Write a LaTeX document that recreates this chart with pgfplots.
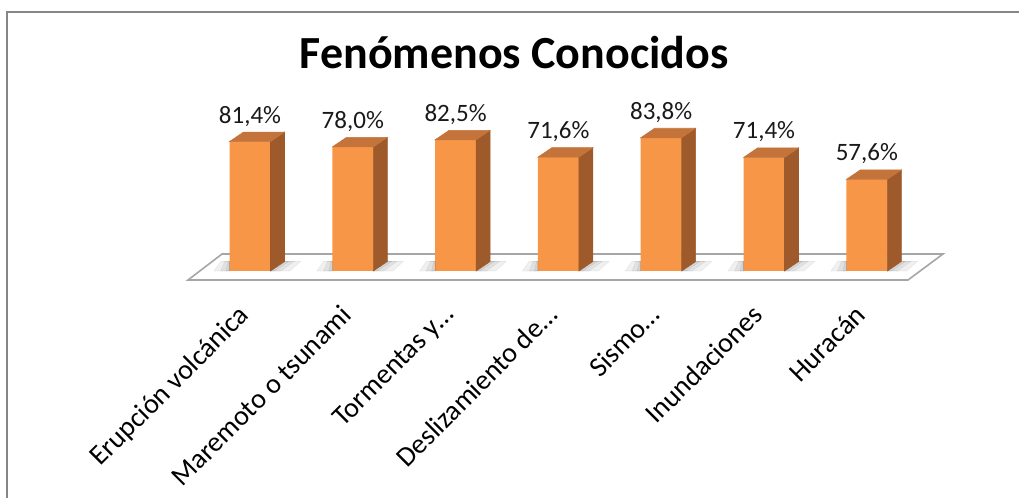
\documentclass[border=0pt]{standalone}
\usepackage{pgfplots}
\pgfplotsset{compat=1.18}
\usepackage{pgfplotstable}
\usepackage{fontspec}
\setmainfont{Carlito}
\definecolor{frontc}{HTML}{F79646}
\definecolor{topc}{HTML}{C4733A}
\definecolor{sidec}{HTML}{9E5A2A}
\definecolor{framec}{HTML}{868686}
\definecolor{floorc}{HTML}{A6A6A6}
\pgfdeclareplotmark{emptymark}{}
\pgfplotstableread{
x v
0 81.4
1 78.0
2 82.5
3 71.6
4 83.8
5 71.4
6 57.6
}\datatable
\begin{document}
\begin{tikzpicture}[x=0.75pt,y=0.75pt]
\useasboundingbox (0,0) rectangle (1019,498);
\draw[framec, line width=1.5pt] (6.5,-10) -- (6.5,485.5) -- (1030,485.5);
\node[anchor=base, inner sep=0pt, font=\bfseries\fontsize{34.5}{41}\selectfont] at (514,429) {Fenómenos Conocidos};
\begin{axis}[
  at={(110.4pt,170.25pt)}, anchor=south west,
  x=77.1pt, y=1.1925pt,
  xmin=-1, xmax=7, ymin=0, ymax=100,
  clip=false,
  axis line style={draw=none},
  tick style={draw=none},
  ytick=\empty,
  xtick={0,1,2,3,4,5,6},
  xticklabels={Erupción volcánica, Maremoto o tsunami, Tormentas y…, Deslizamiento de…, Sismo…, Inundaciones, Huracán},
  xticklabel style={xshift=-10pt, yshift=-24pt, rotate=45, anchor=north east, inner sep=0pt, font=\fontsize{21}{25}\selectfont},
  /pgf/number format/assume math mode=true,
]
% floor
\draw[floorc, line width=1.2pt, fill=white] (axis cs:-0.603,-5.66) -- (axis cs:6.401,-5.66) -- (axis cs:6.741,10.69) -- (axis cs:-0.272,10.69) -- cycle;
% shadows, side and top faces
\addplot[scatter, only marks, mark=emptymark,
  visualization depends on={\thisrow{v} \as \h},
  scatter/@pre marker code/.code={%
    \scope
    \pgfmathsetmacro\hh{-\h*1.1925}%
    \pgfmathsetmacro\hb{-\h*1.1925+7.125}%
    \fill[black, opacity=0.06] (-27pt,\hh pt) -- (-15.375pt,\hh pt) -- (-15.375pt,\hb pt) -- (-22pt,\hb pt) -- cycle;
    \fill[black, opacity=0.06] (-22pt,\hh pt) -- (-15.375pt,\hh pt) -- (-15.375pt,\hb pt) -- (-19pt,\hb pt) -- cycle;
    \fill[black, opacity=0.06] (-18pt,\hh pt) -- (-15.375pt,\hh pt) -- (-15.375pt,\hb pt) -- (-16.5pt,\hb pt) -- cycle;
    \fill[black, opacity=0.06] (15.375pt,\hh pt) -- (25.875pt,\hb pt) -- (38pt,\hb pt) -- (30pt,\hh pt) -- cycle;
    \fill[black, opacity=0.06] (15.375pt,\hh pt) -- (25.875pt,\hb pt) -- (33pt,\hb pt) -- (23pt,\hh pt) -- cycle;
    \fill[black, opacity=0.06] (15.375pt,\hh pt) -- (25.875pt,\hb pt) -- (29pt,\hb pt) -- (18.5pt,\hh pt) -- cycle;
    \fill[sidec] (15.375pt,0pt) -- (25.875pt,7.125pt) -- (25.875pt,\hb pt) -- (15.375pt,\hh pt) -- cycle;
    \fill[topc] (-15.375pt,0pt) -- (15.375pt,0pt) -- (25.875pt,7.125pt) -- (-4.875pt,7.125pt) -- cycle;
  },
  scatter/@post marker code/.code={\endscope},
] table[x=x, y=v] {\datatable};
% front faces
\addplot[ybar, bar width=30.75pt, fill=frontc, draw=none,
  nodes near coords={\pgfmathprintnumber[fixed, fixed zerofill, precision=1, use comma, assume math mode=true]{\pgfplotspointmeta}\%},
  every node near coord/.append style={anchor=base, yshift=13.9pt, inner sep=0pt, text=black!90, font=\fontsize{18.75}{22}\selectfont},
] table[x=x, y=v] {\datatable};
\end{axis}
\end{tikzpicture}
\end{document}
